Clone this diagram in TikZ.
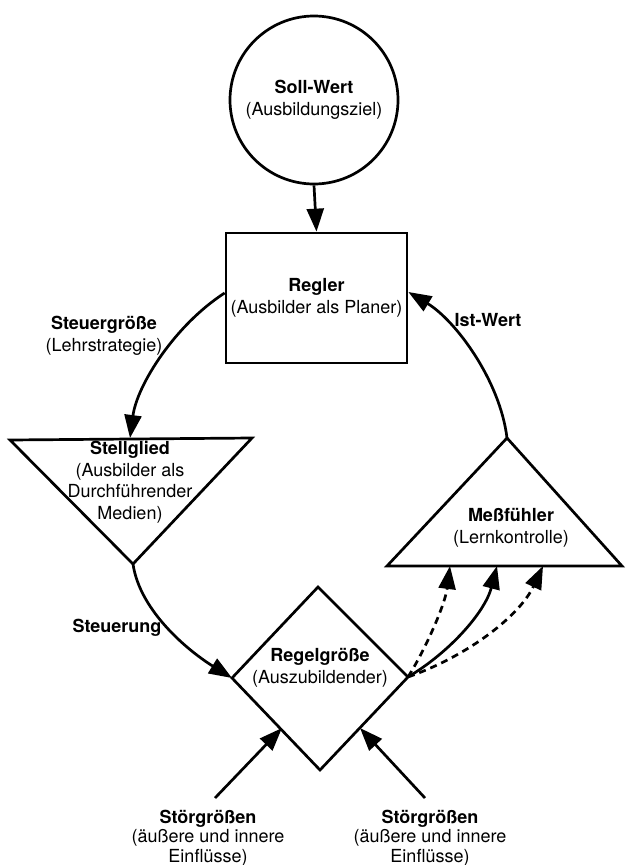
\documentclass[tikz,border=0pt]{standalone}
\usepackage{fontspec}
\setmainfont{TeX Gyre Heros}
\usetikzlibrary{arrows.meta}
\begin{document}
\begin{tikzpicture}[x=1pt,y=-1pt,line width=2.7pt,line join=miter,
  tip/.style={-{Triangle[length=23pt,width=17pt]}},
  dsh/.style={dash pattern=on 7pt off 5pt},
  lbl/.style={font=\fontsize{18}{21.5}\selectfont,align=center,inner sep=0pt},
  shp/.style={draw,line width=2.7pt}]
\useasboundingbox (0,0) rectangle (626,865);
% shapes
\node[shp,circle,minimum size=168pt,inner sep=0pt,lbl] (soll) at (314,100) {\textbf{Soll-Wert}\\(Ausbildungsziel)};
\node[shp,rectangle,minimum width=181pt,minimum height=130pt,lbl] (regler) at (316.5,298) {\textbf{Regler}\\(Ausbilder als Planer)};
% Stellglied triangle
\coordinate (stA) at (10,440);
\coordinate (stB) at (252,438);
\coordinate (stC) at (133,564);
\draw (stA) -- (stB) -- (stC) -- cycle;
\node[lbl] (stell) at (130,482) {\textbf{Stellglied}\\(Ausbilder als\\Durchführender\\Medien)};
% Messfuehler triangle
\coordinate (mA) at (507,438);
\coordinate (mL) at (387,566);
\coordinate (mR) at (622,566);
\draw (mA) -- (mL) -- (mR) -- cycle;
\node[lbl] (mess) at (511,528) {\textbf{Meßfühler}\\(Lernkontrolle)};
% Diamond
\coordinate (dT) at (318,587);
\coordinate (dL) at (232,678);
\coordinate (dR) at (408,677);
\coordinate (dB) at (320,770);
\draw (dT) -- (dR) -- (dB) -- (dL) -- cycle;
\node[lbl] (regel) at (320,668) {\textbf{Regelgröße}\\(Auszubildender)};
% labels
\node[lbl] (steuergr) at (104,336) {\textbf{Steuergröße}\\(Lehrstrategie)};
\node[lbl] (istwert) at (488,320) {\textbf{Ist-Wert}};
\node[lbl] (steuerung) at (117,628) {\textbf{Steuerung}};
\node[lbl,font=\fontsize{18}{19.5}\selectfont] (stoerL) at (208,838) {\textbf{Störgrößen}\\(äußere und innere\\Einflüsse)};
\node[lbl,font=\fontsize{18}{19.5}\selectfont] (stoerR) at (430,838) {\textbf{Störgrößen}\\(äußere und innere\\Einflüsse)};
% connector endpoints
\coordinate (sL1) at (215,798);
\coordinate (sL2) at (282,728);
\coordinate (sR1) at (425,798);
\coordinate (sR2) at (360,728);
\coordinate (b1) at (450,566);
\coordinate (b2) at (497,566);
\coordinate (b3) at (543,566);
% connectors
\draw[tip] (soll.south) -- (regler.north);
\draw[tip] ([yshift=5pt]regler.west) .. controls (175,325) and (137,385) .. (stB -| 130,0);
\draw[tip] (mA) .. controls (500,380) and (455,320) .. ([yshift=6pt]regler.east);
\draw[tip] (stC) .. controls (140,612) and (190,652) .. (dL);
\draw[tip,dsh] (dR) .. controls (425,650) and (445,605) .. (b1);
\draw[tip] (dR) .. controls (450,652) and (485,612) .. (b2);
\draw[tip,dsh] (dR) .. controls (470,655) and (520,615) .. (b3);
\draw[tip] (sL1) -- (sL2);
\draw[tip] (sR1) -- (sR2);
\end{tikzpicture}
\end{document}
